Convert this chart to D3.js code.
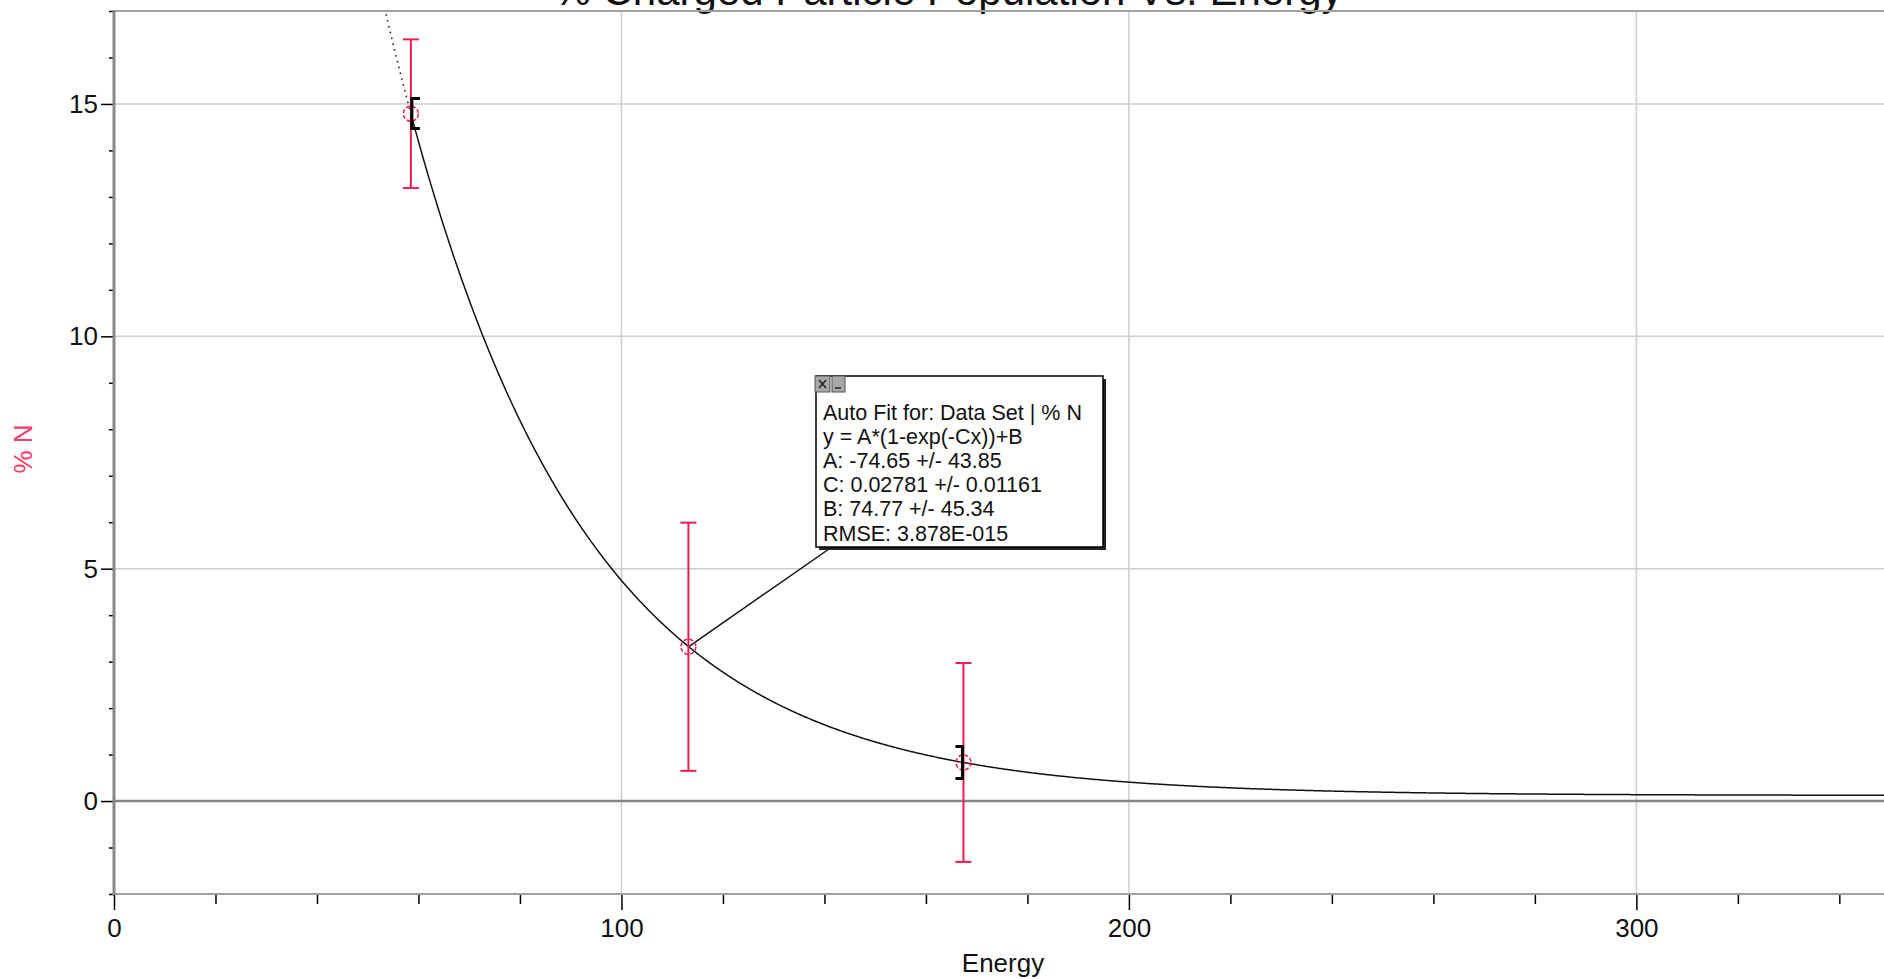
<!DOCTYPE html>
<html>
<head>
<meta charset="utf-8">
<script src="https://cdn.jsdelivr.net/npm/d3@7"></script>
<style>
  body { margin: 0; background: #fff; }
  svg { display: block; }
  text { font-family: "Liberation Sans", Arial, sans-serif; }
</style>
</head>
<body>
<svg id="chart" width="1884" height="979"></svg>
<script>
// Measured data set: energy vs. percent of charged particles, with uncertainty
const energy = [58.5, 113.2, 167.4];
const percentN = [14.79, 3.32, 0.83];
const percentNError = [1.6, 2.67, 2.14];

// Axis ticks
const xMajorTicks = [0, 100, 200, 300];
const xMinorTicks = [20, 40, 60, 80, 120, 140, 160, 180, 220, 240, 260, 280, 320, 340];
const yMajorTicks = [0, 5, 10, 15];
const yMinorTicks = [-2, -1, 1, 2, 3, 4, 6, 7, 8, 9, 11, 12, 13, 14, 16, 17];

// Exponential auto-fit result: y = A*(1-exp(-Cx))+B
const fitA = -74.65, fitC = 0.02781, fitB = 74.77;
const fitLines = [
  "Auto Fit for: Data Set | % N",
  "y = A*(1-exp(-Cx))+B",
  "A: -74.65 +/- 43.85",
  "C: 0.02781 +/- 0.01161",
  "B: 74.77 +/- 45.34",
  "RMSE: 3.878E-015"
];

const W = 1884, H = 979;
const plot = { left: 114, right: 1884, top: 11, bottom: 894 };
const red = "#f01c4e";

const x = d3.scaleLinear().domain([0, 348.8]).range([plot.left, plot.right]);
const y = d3.scaleLinear().domain([-2, 17]).range([plot.bottom, plot.top]);

const svg = d3.select("#chart");
svg.append("rect").attr("width", W).attr("height", H).attr("fill", "#fff");

// Title (sits above the plot frame)
svg.append("text")
  .attr("x", 948).attr("y", 5)
  .attr("text-anchor", "middle")
  .attr("font-size", 42).attr("fill", "#111")
  .text("% Charged Particle Population Vs. Energy");

// Grid
const grid = svg.append("g");
grid.selectAll("line.gx").data(xMajorTicks.filter(d => d > 0)).join("line")
  .attr("x1", d => x(d)).attr("x2", d => x(d))
  .attr("y1", plot.top).attr("y2", plot.bottom)
  .attr("stroke", "#cdcdcd").attr("stroke-width", 1.5);
grid.selectAll("line.gy").data(yMajorTicks.filter(d => d !== 0)).join("line")
  .attr("x1", plot.left).attr("x2", plot.right)
  .attr("y1", d => y(d)).attr("y2", d => y(d))
  .attr("stroke", "#cdcdcd").attr("stroke-width", 1.5);

// Frame lines and zero line
svg.append("line").attr("x1", plot.left).attr("x2", plot.right)
  .attr("y1", plot.top).attr("y2", plot.top)
  .attr("stroke", "#a0a0a0").attr("stroke-width", 2);
svg.append("line").attr("x1", plot.left).attr("x2", plot.right)
  .attr("y1", plot.bottom).attr("y2", plot.bottom)
  .attr("stroke", "#a0a0a0").attr("stroke-width", 2);
svg.append("line").attr("x1", plot.left).attr("x2", plot.right)
  .attr("y1", y(0)).attr("y2", y(0))
  .attr("stroke", "#858585").attr("stroke-width", 2.5);

// Y axis
const yAxisMinor = d3.axisLeft(y).tickValues(yMinorTicks).tickSize(5).tickFormat("");
const yAxisMajor = d3.axisLeft(y).tickValues(yMajorTicks).tickSize(13).tickPadding(3).tickFormat(d3.format("d"));
[yAxisMinor, yAxisMajor].forEach(ax => {
  const g = svg.append("g").attr("transform", `translate(${plot.left},0)`).call(ax);
  g.select(".domain").remove();
  g.selectAll(".tick line").attr("stroke", "#000").attr("stroke-width", 1.5);
  g.selectAll(".tick text").attr("font-size", 26).attr("fill", "#111")
    .attr("font-family", "Liberation Sans, Arial, sans-serif");
});
svg.append("line").attr("x1", plot.left).attr("x2", plot.left)
  .attr("y1", plot.top - 1).attr("y2", plot.bottom + 1)
  .attr("stroke", "#888").attr("stroke-width", 3);

// X axis
const xAxisMinor = d3.axisBottom(x).tickValues(xMinorTicks).tickSize(9).tickFormat("");
const xAxisMajor = d3.axisBottom(x).tickValues(xMajorTicks).tickSize(15).tickPadding(9).tickFormat(d3.format("d"));
[xAxisMinor, xAxisMajor].forEach(ax => {
  const g = svg.append("g").attr("transform", `translate(0,${plot.bottom + 1})`).call(ax);
  g.select(".domain").remove();
  g.selectAll(".tick line").attr("stroke", "#000").attr("stroke-width", 1.5);
  g.selectAll(".tick text").attr("font-size", 26).attr("fill", "#111")
    .attr("font-family", "Liberation Sans, Arial, sans-serif");
});

// Axis titles
svg.append("text")
  .attr("x", 1003).attr("y", 972)
  .attr("text-anchor", "middle").attr("font-size", 26).attr("fill", "#111")
  .text("Energy");
svg.append("text")
  .attr("transform", "translate(32,449) rotate(-90)")
  .attr("text-anchor", "middle").attr("font-size", 26).attr("fill", "#ff3a64")
  .text("% N");

// Fit curve
const clip = svg.append("clipPath").attr("id", "plotClip")
  .append("rect").attr("x", plot.left).attr("y", plot.top)
  .attr("width", plot.right - plot.left).attr("height", plot.bottom - plot.top);
const fit = e => fitA * (1 - Math.exp(-fitC * e)) + fitB;
const fitStart = d3.min(energy), fitEnd = d3.max(energy);
const line = d3.line().x(d => x(d)).y(d => y(fit(d)));
const before = d3.range(40, fitStart, 0.25).concat([fitStart]);
const after = d3.range(fitStart, 348.8, 0.25).concat([348.8]);
const curves = svg.append("g").attr("clip-path", "url(#plotClip)");
curves.append("path").attr("d", line(before))
  .attr("fill", "none").attr("stroke", "#222").attr("stroke-width", 1.6)
  .attr("stroke-dasharray", "1.6,4.4");
curves.append("path").attr("d", line(after))
  .attr("fill", "none").attr("stroke", "#111").attr("stroke-width", 1.5);

// Callout leader line from the middle point to the fit box
const boxX = 816, boxY = 376, boxW = 287, boxH = 171;
svg.append("line")
  .attr("x1", x(energy[1])).attr("y1", y(percentN[1]))
  .attr("x2", boxX + 13).attr("y2", boxY + boxH + 2)
  .attr("stroke", "#111").attr("stroke-width", 1.5);

// Error bars
const pts = energy.map((e, i) => ({ e, v: percentN[i], err: percentNError[i] }));
const eb = svg.append("g").attr("stroke", red).attr("stroke-width", 2);
eb.selectAll("line.v").data(pts).join("line")
  .attr("x1", d => x(d.e)).attr("x2", d => x(d.e))
  .attr("y1", d => y(d.v + d.err)).attr("y2", d => y(d.v - d.err));
eb.selectAll("line.t").data(pts).join("line")
  .attr("x1", d => x(d.e) - 8).attr("x2", d => x(d.e) + 8)
  .attr("y1", d => y(d.v + d.err)).attr("y2", d => y(d.v + d.err));
eb.selectAll("line.b").data(pts).join("line")
  .attr("x1", d => x(d.e) - 8).attr("x2", d => x(d.e) + 8)
  .attr("y1", d => y(d.v - d.err)).attr("y2", d => y(d.v - d.err));

// Point markers
svg.append("g").selectAll("circle").data(pts).join("circle")
  .attr("cx", d => x(d.e)).attr("cy", d => y(d.v)).attr("r", 7.5)
  .attr("fill", "none").attr("stroke", red).attr("stroke-width", 1.5)
  .attr("stroke-dasharray", "4,2");

// Fit range brackets
const bracket = svg.append("g").attr("fill", "none").attr("stroke", "#000").attr("stroke-width", 3);
const bx0 = x(fitStart) + 1, by0 = y(fit(fitStart));
bracket.append("path").attr("d", `M${bx0 + 8},${by0 - 15}H${bx0}V${by0 + 15}H${bx0 + 8}`);
const bx1 = x(fitEnd) - 1, by1 = y(fit(fitEnd));
bracket.append("path").attr("d", `M${bx1 - 7},${by1 - 16}H${bx1}V${by1 + 16}H${bx1 - 7}`);

// Fit info box
const box = svg.append("g");
box.append("rect").attr("x", boxX + 3).attr("y", boxY + 3).attr("width", boxW).attr("height", boxH)
  .attr("fill", "#222");
box.append("rect").attr("x", boxX).attr("y", boxY).attr("width", boxW).attr("height", boxH)
  .attr("fill", "#fff").attr("stroke", "#000").attr("stroke-width", 1.5);
box.append("rect").attr("x", boxX - 1).attr("y", boxY).attr("width", 15).attr("height", 16)
  .attr("fill", "#a8a8a8").attr("stroke", "#555").attr("stroke-width", 1);
box.append("path").attr("d", `M${boxX + 3},${boxY + 4}L${boxX + 10},${boxY + 12}M${boxX + 10},${boxY + 4}L${boxX + 3},${boxY + 12}`)
  .attr("stroke", "#222").attr("stroke-width", 1.5);
box.append("rect").attr("x", boxX + 16).attr("y", boxY).attr("width", 13).attr("height", 16)
  .attr("fill", "#a8a8a8").attr("stroke", "#555").attr("stroke-width", 1);
box.append("line").attr("x1", boxX + 19).attr("x2", boxX + 25)
  .attr("y1", boxY + 12).attr("y2", boxY + 12)
  .attr("stroke", "#222").attr("stroke-width", 1.5);
box.selectAll("text").data(fitLines).join("text")
  .attr("x", boxX + 7).attr("y", (d, i) => boxY + 44 + i * 24.1)
  .attr("font-size", 21.5).attr("fill", "#111")
  .text(d => d);
</script>
</body>
</html>
